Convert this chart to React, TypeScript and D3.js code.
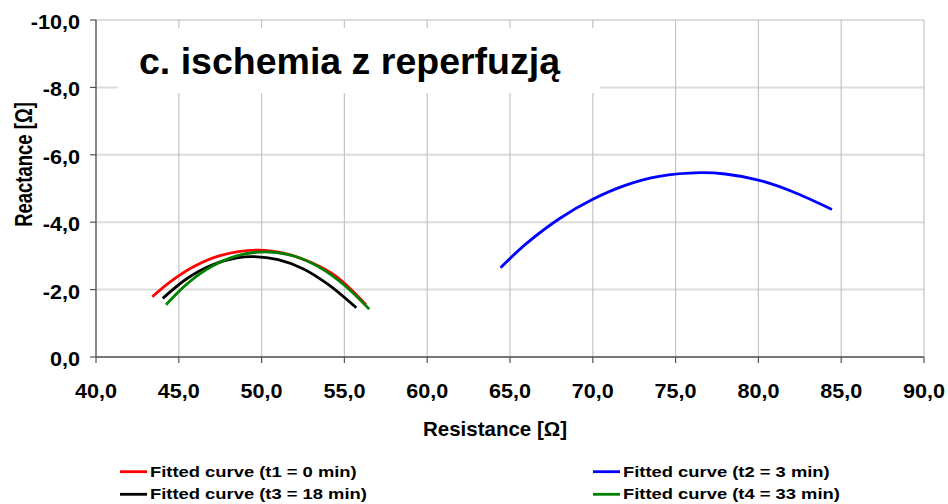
import React from "react";
import * as d3 from "d3";

// Data (Resistance, Reactance)
const redX = [43.4, 44.5, 46.0, 47.5, 49.7, 51.5, 53.0, 54.5, 56.3];
const redY = [-1.79, -2.24, -2.71, -3.01, -3.17, -3.06, -2.8, -2.39, -1.55];
const blueX = [64.43, 66, 68, 70, 72, 74, 76.5, 78, 80, 82, 84.44];
const blueY = [-2.65, -3.37, -4.11, -4.68, -5.1, -5.36, -5.47, -5.43, -5.25, -4.92, -4.38];
const blackX = [44.03, 45.5, 47, 48.5, 49.5, 51, 52.5, 54, 55.72];
const blackY = [-1.74, -2.33, -2.73, -2.94, -2.98, -2.89, -2.62, -2.16, -1.46];
const greenX = [44.23, 45.5, 47, 48.5, 50.2, 52, 53.5, 55, 56.5];
const greenY = [-1.55, -2.17, -2.69, -3.0, -3.12, -2.99, -2.66, -2.13, -1.42];

const seriesNames = [
  "Fitted curve (t1 = 0 min)",
  "Fitted curve (t2 = 3 min)",
  "Fitted curve (t3 = 18 min)",
  "Fitted curve (t4 = 33 min)",
];
const seriesColors = ["#ff0000", "#0000ff", "#000000", "#008000"];

const xTicks = [40, 45, 50, 55, 60, 65, 70, 75, 80, 85, 90];
const yTicks = [0, -2, -4, -6, -8, -10];

const titleText = "c. ischemia z reperfuzją";
const xTitle = "Resistance [Ω]";
const yTitle = "Reactance [Ω]";

const FONT = "'Liberation Sans', Arial, Helvetica, sans-serif";

export default function App() {
  const W = 948;
  const H = 504;
  const left = 96, right = 924, top = 20, bottom = 357;
  const x = d3.scaleLinear().domain([40, 90]).range([left, right]);
  const y = d3.scaleLinear().domain([0, -10]).range([bottom, top]);
  const fmt = (v: number) => d3.format(".1f")(v).replace(".", ",").replace("−", "-");

  const series = [
    { xs: redX, ys: redY },
    { xs: blueX, ys: blueY },
    { xs: blackX, ys: blackY },
    { xs: greenX, ys: greenY },
  ];
  const line = d3
    .line<[number, number]>()
    .x((d) => x(d[0]))
    .y((d) => y(d[1]))
    .curve(d3.curveCatmullRom.alpha(0.5));

  const legendPos = [
    { lx: 120, ty: 476.7 },
    { lx: 593, ty: 476.7 },
    { lx: 120, ty: 499.3 },
    { lx: 593, ty: 499.3 },
  ];

  return (
    <svg
      width={W}
      height={H}
      style={{ position: "absolute", left: 0, top: 0, background: "#fff" }}
      fontFamily={FONT}
      fontWeight="bold"
    >
      <rect x={0} y={0} width={W} height={H} fill="#fff" />
      {/* horizontal gridlines */}
      {yTicks.map((t) => (
        <line key={"hg" + t} x1={left} x2={right} y1={y(t)} y2={y(t)} stroke="#dcdcdc" strokeWidth={2} />
      ))}
      {/* vertical gridlines */}
      {xTicks.slice(1).map((t) => (
        <line key={"vg" + t} x1={x(t)} x2={x(t)} y1={top} y2={bottom} stroke="#c4c4c4" strokeWidth={1.2} />
      ))}
      {/* title box */}
      <rect x={118} y={28} width={482} height={65} fill="#fff" />
      <text x={139} y={74} fontSize={37.5} fill="#000">{titleText}</text>

      {/* axes */}
      <line x1={left} x2={left} y1={top} y2={bottom} stroke="#555" strokeWidth={1.4} />
      <line x1={left} x2={right} y1={bottom} y2={bottom} stroke="#555" strokeWidth={1.4} />
      {yTicks.map((t) => (
        <g key={"yt" + t}>
          <line x1={left - 6} x2={left} y1={y(t)} y2={y(t)} stroke="#555" strokeWidth={1.2} />
          <text
            transform={`translate(80,${y(t) + 9}) scale(1.08,1)`}
            textAnchor="end"
            fontSize={20}
            fill="#000"
          >
            {fmt(t)}
          </text>
        </g>
      ))}
      {xTicks.map((t) => (
        <g key={"xt" + t}>
          <line x1={x(t)} x2={x(t)} y1={bottom} y2={bottom + 6} stroke="#555" strokeWidth={1.2} />
          <text
            transform={`translate(${x(t)},398) scale(1.08,1)`}
            textAnchor="middle"
            fontSize={20}
            fill="#000"
          >
            {fmt(t)}
          </text>
        </g>
      ))}

      {/* curves */}
      {series.map((s, i) => (
        <path
          key={"s" + i}
          d={line(s.xs.map((v, j) => [v, s.ys[j]] as [number, number])) || ""}
          fill="none"
          stroke={seriesColors[i]}
          strokeWidth={2.8}
        />
      ))}

      {/* axis titles */}
      <text x={495} y={435.5} textAnchor="middle" fontSize={20.5} fill="#000">{xTitle}</text>
      <text
        transform={`translate(32,164.5) rotate(-90) scale(1,1.3)`}
        textAnchor="middle"
        fontSize={18.5}
        fill="#000"
      >
        {yTitle}
      </text>

      {/* legend */}
      {seriesNames.map((n, i) => (
        <g key={"lg" + i}>
          <line
            x1={legendPos[i].lx}
            x2={legendPos[i].lx + 27}
            y1={legendPos[i].ty - 5}
            y2={legendPos[i].ty - 5}
            stroke={seriesColors[i]}
            strokeWidth={2.8}
          />
          <text
            transform={`translate(${legendPos[i].lx + 30},${legendPos[i].ty}) scale(1.225,1)`}
            fontSize={15}
            fill="#000"
          >
            {n}
          </text>
        </g>
      ))}
    </svg>
  );
}
